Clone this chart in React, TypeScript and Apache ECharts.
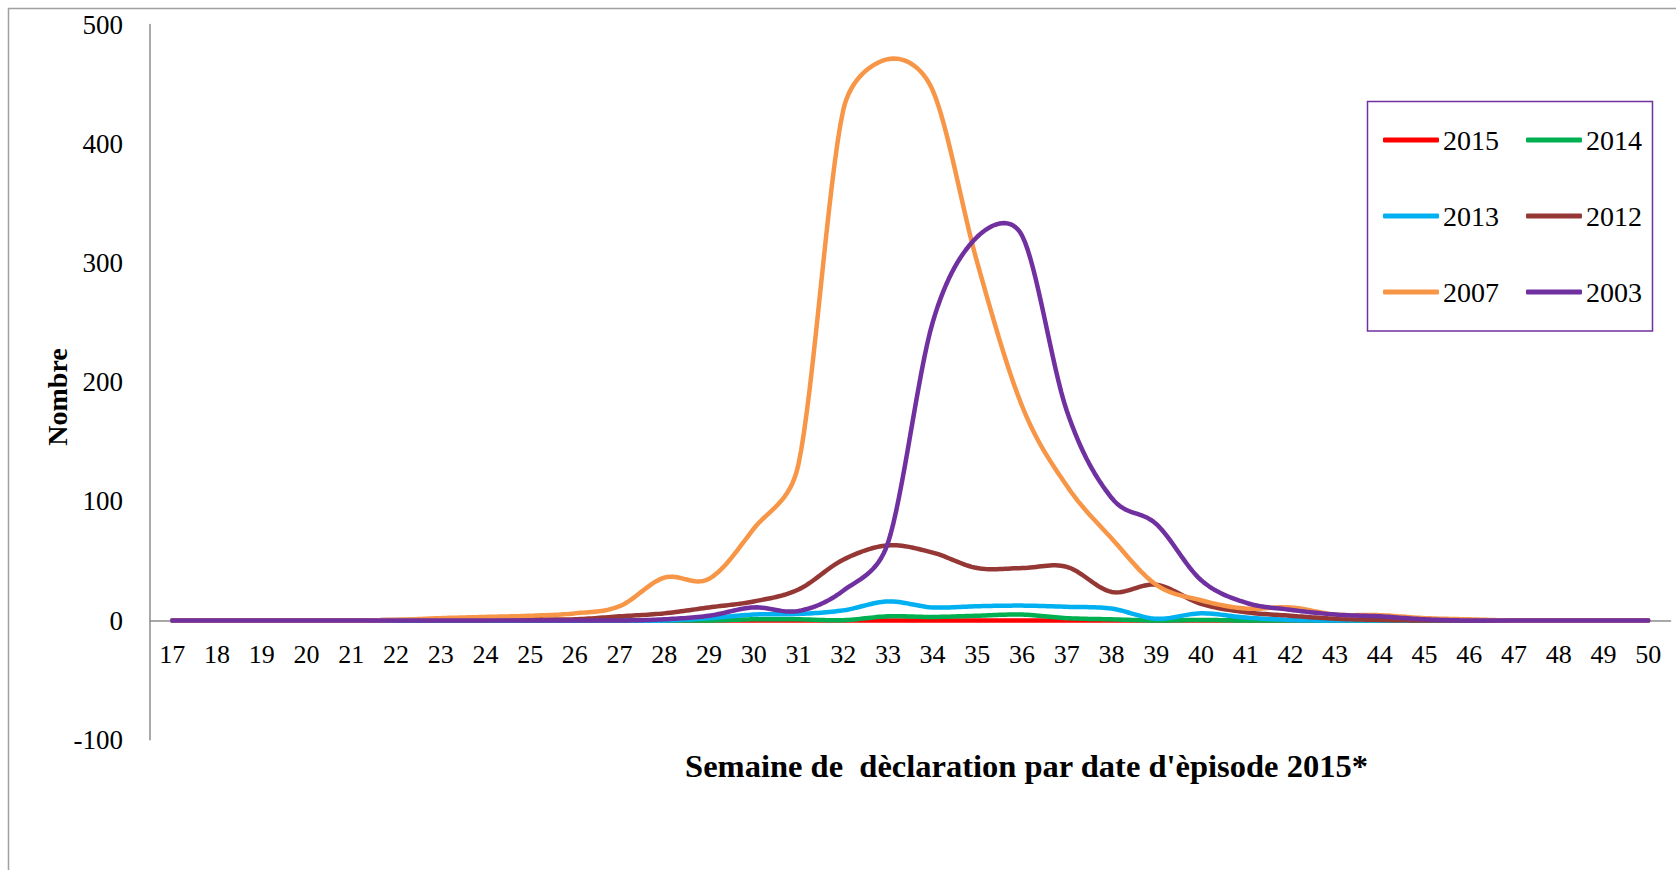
import React, { useEffect, useRef } from 'react';
import * as echarts from 'echarts';

const weeks = ['17','18','19','20','21','22','23','24','25','26','27','28','29','30','31','32','33','34','35','36','37','38','39','40','41','42','43','44','45','46','47','48','49','50'];

const yearNames = ['2015', '2014', '2013', '2012', '2007', '2003'];
const yearColors = ['#FF0000', '#00B050', '#00B0F0', '#953735', '#F79646', '#7030A0'];

const s2015 = [0,0,0,0,0,0,0,0,0,0,0,0,0,0,0,0,0,0,0,0,0,0,0,0,0,0,0,0,0,0,0,0,0,0];
const s2014 = [0,0,0,0,0,0,0,0,0,0,0,0,0,1,1,0.3,3.5,3,4,5,2,1,0,0.5,0,0,0,0,0,0,0,0,0,0];
const s2013 = [0,0,0,0,0,0,0,0,0,0,0,0,2,5,5.5,8.5,16,11,12,12.5,11.5,10,1.5,6,2.5,0.5,0,0,0,0,0,0,0,0];
const s2012 = [0,0,0,0,0,0.5,0.5,0.5,1,1,3.5,6,11,16,26,51,63,57,44,44,45,24,30,14,7,4,1.5,0.5,0,0,0,0,0,0];
const s2007 = [0,0,0,0,0,0.5,2,3,4,6,12,36,35,77,131,428,471,445,300,180,113,69,30,17,10,11,5,4.5,2,1,0,0,0,0];
const s2003 = [0,0,0,0,0,0,0,0,0,0,0,1,4,11,8,25,65,250,322,323,176,103,81,34,15,9,5,3.5,1,0,0,0,0,0];

const seriesData = [s2015, s2014, s2013, s2012, s2007, s2003];

const yTicks = [-100, 0, 100, 200, 300, 400, 500];

const xTitle = "Semaine de  dèclaration par date d'èpisode 2015*";
const yTitle = 'Nombre';

const FONT = "'Liberation Serif', 'Times New Roman', serif";

function capVec(v: number[], maxLen: number) {
  const len = Math.hypot(v[0], v[1]);
  if (len > maxLen && len > 0) {
    const k = maxLen / len;
    return [v[0] * k, v[1] * k];
  }
  return v;
}

// Excel-like smoothed line: Catmull-Rom through the data points (control
// vectors capped to half the segment length), in pixel coordinates obtained
// through the chart's own axes (api.coord).
function makeRenderItem(values: number[], color: string) {
  return (params: any, api: any) => {
    const pts = values.map((v, i) => api.coord([i, v]));
    const out: number[][] = [];
    const n = pts.length;
    const steps = 16;
    for (let i = 0; i < n - 1; i++) {
      const p0 = pts[Math.max(0, i - 1)];
      const p1 = pts[i];
      const p2 = pts[i + 1];
      const p3 = pts[Math.min(n - 1, i + 2)];
      const seg = Math.hypot(p2[0] - p1[0], p2[1] - p1[1]);
      const t1 = capVec([(p2[0] - p0[0]) / 6, (p2[1] - p0[1]) / 6], seg * 0.5);
      const t2 = capVec([(p3[0] - p1[0]) / 6, (p3[1] - p1[1]) / 6], seg * 0.5);
      const c1 = [p1[0] + t1[0], p1[1] + t1[1]];
      const c2 = [p2[0] - t2[0], p2[1] - t2[1]];
      for (let s = 0; s < steps; s++) {
        const t = s / steps;
        const u = 1 - t;
        const x = u * u * u * p1[0] + 3 * u * u * t * c1[0] + 3 * u * t * t * c2[0] + t * t * t * p2[0];
        const y = u * u * u * p1[1] + 3 * u * u * t * c1[1] + 3 * u * t * t * c2[1] + t * t * t * p2[1];
        out.push([x, y]);
      }
    }
    out.push(pts[n - 1]);
    return {
      type: 'polyline',
      shape: { points: out },
      style: { stroke: color, lineWidth: 4.5, fill: 'none', lineCap: 'round', lineJoin: 'round' },
      silent: true,
    };
  };
}

export default function App() {
  const ref = useRef<HTMLDivElement>(null);
  useEffect(() => {
    if (!ref.current) return;
    const chart = echarts.init(ref.current, null, { renderer: 'svg' });
    const legendPos = [
      { left: 1383, top: 126 },
      { left: 1526, top: 126 },
      { left: 1383, top: 202 },
      { left: 1526, top: 202 },
      { left: 1383, top: 278 },
      { left: 1526, top: 278 },
    ];
    chart.setOption({
      animation: false,
      backgroundColor: '#ffffff',
      grid: { left: 150, right: 5.5, top: 24.6, bottom: 130.3, containLabel: false },
      xAxis: {
        type: 'category',
        data: weeks,
        boundaryGap: true,
        offset: -118.7,
        axisLine: { show: true, onZero: false, lineStyle: { color: '#8c8c8c', width: 1.5 } },
        axisTick: { show: false },
        axisLabel: { interval: 0, margin: 20, fontSize: 26, fontFamily: FONT, color: '#000' },
        splitLine: { show: false },
      },
      yAxis: {
        type: 'value',
        min: yTicks[0],
        max: yTicks[yTicks.length - 1],
        interval: 100,
        axisLine: { show: true, lineStyle: { color: '#8c8c8c', width: 1.5 } },
        axisTick: { show: false },
        axisLabel: { margin: 27, fontSize: 27, fontFamily: FONT, color: '#000' },
        splitLine: { show: false },
      },
      legend: yearNames.map((n, i) => ({
        data: [{ name: n, icon: 'roundRect', itemStyle: { color: yearColors[i] } }],
        left: legendPos[i].left,
        top: legendPos[i].top,
        padding: 0,
        itemWidth: 56,
        itemHeight: 5,
        itemGap: 0,
        selectedMode: false,
        textStyle: { fontSize: 28, fontFamily: FONT, color: '#000', padding: [0, 0, 0, -1] },
      })),
      graphic: [
        {
          type: 'rect',
          shape: { x: 8.5, y: 8.5, width: 1720, height: 920 },
          style: { fill: 'none', stroke: '#a0a0a0', lineWidth: 1.5 },
          silent: true,
        },
        {
          type: 'rect',
          shape: { x: 1367.5, y: 101.5, width: 285, height: 229.5 },
          style: { fill: 'none', stroke: '#7030A0', lineWidth: 1.5 },
          silent: true,
        },
        {
          type: 'text',
          x: 1026.5,
          y: 766,
          style: {
            text: xTitle,
            font: `bold 32.5px ${FONT}`,
            fill: '#000',
            textAlign: 'center',
            textVerticalAlign: 'middle',
          },
        },
        {
          type: 'text',
          x: 57,
          y: 397,
          rotation: Math.PI / 2,
          style: {
            text: yTitle,
            font: `bold 28px ${FONT}`,
            fill: '#000',
            textAlign: 'center',
            textVerticalAlign: 'middle',
          },
        },
      ],
      series: yearNames.map((n, i) => ({
        name: n,
        type: 'custom',
        coordinateSystem: 'cartesian2d',
        data: [[0, 0]],
        encode: { x: 0, y: 1 },
        itemStyle: { color: yearColors[i] },
        renderItem: makeRenderItem(seriesData[i], yearColors[i]),
        clip: false,
      })),
    });
    return () => chart.dispose();
  }, []);
  return (
    <div
      ref={ref}
      style={{ position: 'absolute', left: 0, top: 0, width: 1676, height: 870, background: '#fff' }}
    />
  );
}
